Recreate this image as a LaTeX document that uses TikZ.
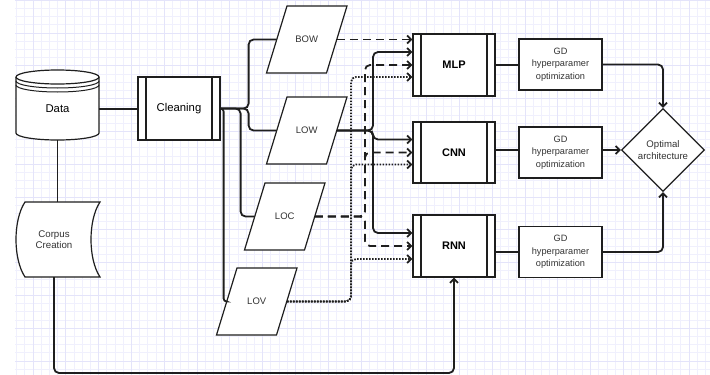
\documentclass[tikz,border=0pt]{standalone}
\usepackage{fontspec}
\setmainfont{Liberation Sans}
\usetikzlibrary{shapes.geometric,arrows.meta,calc}
\definecolor{ink}{RGB}{30,30,30}
\definecolor{txt}{RGB}{51,51,51}
\definecolor{gridminor}{RGB}{240,240,253}
\definecolor{gridmajor}{RGB}{228,228,250}
\newcommand\mypara[4]{%
  \draw[shp] ({#2-30+10.25},{#3-33.5}) -- ({#2+30+10.25},{#3-33.5}) -- ({#2+30-10.25},{#3+33.5}) -- ({#2-30-10.25},{#3+33.5}) -- cycle;
  \node[paratext] (#1) at (#2,#3) {#4};}
\begin{document}
\begin{tikzpicture}[x=1pt,y=-1pt,
  shp/.style={draw=ink, line width=1.2pt, fill=white},
  conn/.style={line width=1.8pt, draw=ink, rounded corners=5pt},
  arr/.style={-{Straight Barb[length=4pt,width=8pt]}},
  dashc/.style={conn, dash pattern=on 8pt off 5pt},
  dotc/.style={conn, dash pattern=on 1.6pt off 1.4pt},
  paratext/.style={minimum width=60pt, minimum height=67pt, inner sep=0, text=txt, font=\fontsize{9.5}{11}\selectfont},
  proc/.style={shp, minimum width=82pt, minimum height=62pt, inner sep=0,
    path picture={\draw[ink, line width=1.2pt]
      ([xshift=8pt]path picture bounding box.north west) -- ([xshift=8pt]path picture bounding box.south west)
      ([xshift=-8pt]path picture bounding box.north east) -- ([xshift=-8pt]path picture bounding box.south east);}},
  nn/.style={proc, font=\fontsize{11}{13}\selectfont\bfseries},
  gd/.style={shp, minimum width=83pt, minimum height=51pt, inner sep=0, align=center, text=txt, font=\fontsize{9.2}{12.5}\selectfont},
]
\useasboundingbox (0,0) rectangle (710,375);
\fill[white] (0,0) rectangle (710,375);
\draw[gridminor, line width=0.5pt, step=8.2pt] (15,0) grid (710,375);
\draw[gridmajor, line width=0.5pt, step=32.8pt] (15,0) grid (710,375);

% Data store
\draw[shp] (16,77) arc[start angle=180,end angle=0,x radius=41.5pt,y radius=7pt] -- (99,133)
  arc[start angle=0,end angle=-180,x radius=41.5pt,y radius=7pt] -- cycle;
\draw[ink, line width=1.2pt] (16,77) arc[start angle=180,end angle=360,x radius=41.5pt,y radius=7pt];
\draw[ink, line width=1pt] (16,81) arc[start angle=180,end angle=360,x radius=41.5pt,y radius=7pt];
\draw[ink, line width=1pt] (16,85) arc[start angle=180,end angle=360,x radius=41.5pt,y radius=7pt];
\node[minimum width=83pt, minimum height=62pt, inner sep=0, font=\fontsize{11.3}{13}\selectfont] (data) at (57.5,109) {Data};

% Corpus creation (stored data shape)
\draw[shp] (25,202) -- (100,202) .. controls (88,220) and (88,259) .. (100,277) -- (25,277)
  .. controls (13,259) and (13,220) .. (25,202) -- cycle;
\node[minimum width=70pt, minimum height=75pt, inner sep=0, align=center, text=txt, font=\fontsize{9.7}{10.8}\selectfont] (corpus) at (54,239.5) {Corpus\\Creation};

% Cleaning
\node[proc, minimum height=63pt, font=\fontsize{11.3}{13}\selectfont] (clean) at (179,108.5) {Cleaning};

% Representations
\mypara{bow}{306.75}{39.5}{BOW}
\mypara{low}{306.75}{130.5}{LOW}
\mypara{loc}{284.75}{216.5}{LOC}
\mypara{lov}{256.75}{301.5}{LOV}

% Networks
\node[nn] (mlp) at (454,65) {MLP};
\node[nn, minimum height=61pt] (cnn) at (454,152.5) {CNN};
\node[nn] (rnn) at (454,246) {RNN};

\node[gd] (gd1) at (560.5,64.5) {GD\\hyperparamer\\optimization};
\node[gd] (gd2) at (560.5,152.5) {GD\\hyperparamer\\optimization};
\node[gd] (gd3) at (560.5,252) {GD\\hyperparamer\\optimization};

\node[shp, diamond, aspect=1, minimum width=83pt, minimum height=83pt, inner sep=0, align=center, text=txt, font=\fontsize{9.6}{11.5}\selectfont] (opt) at (663,150) {Optimal\\architecture};

% helper coordinates
\coordinate (cb) at (0,373);
\coordinate (vlow) at (373,0);
\coordinate (vloc) at (365,0);
\coordinate (vlov) at (351,0);

% left connectors
\draw[conn] (data.east) -- (data.east -| clean.west);
\draw[conn] (data.south) -- (data.south |- corpus.north);
\draw[conn,arr] (corpus.south) -- (corpus.south |- cb) -| (rnn.south);

\draw[conn] (clean.east) -- ++(28,0) |- (bow.west);
\draw[conn] (clean.east) -- ++(28,0) |- (low.west);
\draw[conn] (clean.east) -- ++(20,0) |- (loc.west);
\draw[conn, rounded corners=3pt] (clean.east) -- ++(3,0) |- (lov.west);

% BOW
\draw[dashc,arr] (bow.east) -- (bow.east -| mlp.west);
% LOW
\draw[conn,arr] (low.east) -- (low.east -| vlow) |- ([yshift=13pt]mlp.west);
\draw[conn,arr] (low.east) -- (low.east -| vlow) |- ([yshift=13pt]cnn.west);
\draw[conn,arr] (low.east) -- (low.east -| vlow) |- ([yshift=13pt]rnn.west);
% LOC
\draw[dashc,arr] (loc.east) -- (loc.east -| vloc) |- (mlp.west);
\draw[dashc,arr] (loc.east) -- (loc.east -| vloc) |- (cnn.west);
\draw[dashc,arr] (loc.east) -- (loc.east -| vloc) |- (rnn.west);
% LOV
\draw[dotc,arr] (lov.east) -- (lov.east -| vlov) |- ([yshift=-12pt]mlp.west);
\draw[dotc,arr] (lov.east) -- (lov.east -| vlov) |- ([yshift=-12pt]cnn.west);
\draw[dotc,arr] (lov.east) -- (lov.east -| vlov) |- ([yshift=-13pt]rnn.west);

% right connectors
\draw[conn] (mlp.east) -- (mlp.east -| gd1.west);
\draw[conn] (opt.west -| cnn.east) -- (opt.west -| gd2.west);
\draw[conn] (gd3.west -| rnn.east) -- (gd3.west);
\draw[conn,arr] (gd1.east) -| (opt.north);
\draw[conn,arr] (opt.west -| gd2.east) -- (opt.west);
\draw[conn,arr] (gd3.east) -| (opt.south);
\end{tikzpicture}
\end{document}
